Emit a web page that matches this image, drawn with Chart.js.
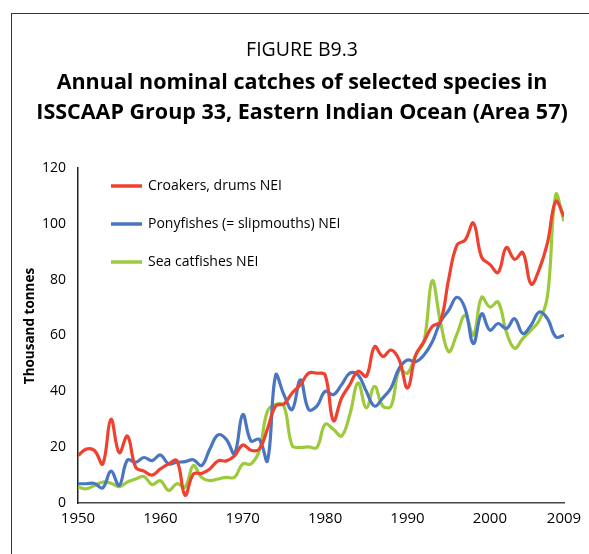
<!DOCTYPE html>
<html>
<head>
  <title>FIGURE B9.3</title>
  <script src="https://cdn.jsdelivr.net/npm/chart.js@4.4.1/dist/chart.umd.min.js"></script>
  <style>
    html, body { margin: 0; padding: 0; background: #fff; }
    #wrap { width: 589px; height: 554px; }
  </style>
</head>
<body>
  <div id="wrap"><canvas id="chart"></canvas></div>

  <script>
    // Años y capturas (miles de toneladas)
    const years = [];
    for (let y = 1950; y <= 2009; y++) years.push(y);

    const croakers = [17, 19.3, 18.8, 14, 30, 18, 24, 12.8, 11.4, 10,
      12.2, 14, 15.2, 2.8, 10.4, 10.6, 12.2, 15.1, 15.1, 16.9,
      20.8, 18.9, 19.3, 26.5, 34.8, 35.5, 39.4, 42.4, 46.5, 46.5,
      45.9, 29.5, 37.6, 42.4, 47.2, 45.4, 56, 52.5, 54.8, 51.2,
      41.2, 53, 57.8, 63.2, 65, 80.2, 92.4, 94.2, 100.3, 88,
      85.5, 82.6, 91.5, 87.3, 89.7, 78.4, 83.8, 93.3, 108, 102.7];

    const ponyfishes = [6.9, 6.9, 7, 5.4, 11.4, 6.3, 15.4, 14.6, 16.3, 15.2,
      17.2, 14, 14.6, 14.8, 15.5, 13.4, 19.3, 24.4, 22.8, 17.7,
      31.7, 22.2, 22.8, 15.1, 45.8, 38.8, 33.5, 44.1, 33.5, 34.7,
      40, 38.8, 42.4, 46.5, 45.9, 40, 34.7, 37.6, 41.2, 48.3,
      51.2, 50.6, 53, 57.7, 64.9, 69, 73.7, 69.6, 57.1, 67.8,
      61.9, 64.3, 62.5, 66, 60.7, 63.7, 68.4, 66, 59.5, 60.1];

    const catfishes = [5.7, 5.1, 6.3, 7.5, 7.1, 5.9, 7.5, 8.6, 9.5, 6.6,
      8, 4.5, 6.9, 5.7, 13.4, 9.2, 8, 8.6, 9.2, 9.2,
      14, 14, 18.7, 32.9, 35.3, 34.7, 20.5, 19.9, 20.1, 19.9,
      28.2, 26.4, 24, 31.7, 43, 34.1, 41.8, 34.7, 34.7, 47.7,
      46.5, 53, 57.8, 79.6, 64.9, 54.2, 60.5, 67.2, 60.1, 73.7,
      70.2, 72, 61.3, 55.4, 58.9, 61.9, 65.4, 74.3, 110.4, 100.9];

    const seriesNames = ['Croakers, drums NEI', 'Ponyfishes (= slipmouths) NEI', 'Sea catfishes NEI'];
    const xTicks = [1950, 1960, 1970, 1980, 1990, 2000, 2009];

    const FONT = "'Open Sans', 'Noto Sans', sans-serif";

    function toPoints(values) {
      return years.map((yr, i) => ({ x: yr, y: values[i] }));
    }

    // Marco, títulos, título del eje y leyenda dibujados a mano
    const figurePlugin = {
      id: 'figure',
      beforeDraw(chart) {
        const ctx = chart.ctx;
        ctx.save();
        ctx.fillStyle = '#fff';
        ctx.fillRect(0, 0, chart.width, chart.height);
        ctx.strokeStyle = '#333';
        ctx.lineWidth = 1;
        ctx.strokeRect(11.5, 13.5, 700, 700);

        ctx.fillStyle = '#000';
        ctx.textAlign = 'center';
        ctx.textBaseline = 'middle';
        ctx.font = '19.5px ' + FONT;
        ctx.fillText('FIGURE B9.3', 302, 50);
        ctx.font = 'bold 21.5px ' + FONT;
        ctx.fillText('Annual nominal catches of selected species in', 302, 83);
        ctx.fillText('ISSCAAP Group 33, Eastern Indian Ocean (Area 57)', 302, 113);

        // título del eje Y
        ctx.save();
        ctx.translate(30, 326);
        ctx.rotate(-Math.PI / 2);
        ctx.font = 'bold 13.5px ' + FONT;
        ctx.fillText('Thousand tonnes', 0, 0);
        ctx.restore();
        ctx.restore();
      },
      afterDraw(chart) {
        const ctx = chart.ctx;
        ctx.save();
        ctx.font = '14px ' + FONT;
        ctx.textAlign = 'left';
        ctx.textBaseline = 'middle';
        chart.data.datasets.forEach((ds, i) => {
          const y = 186 + i * 38;
          ctx.strokeStyle = ds.borderColor;
          ctx.lineWidth = 3.5;
          ctx.beginPath();
          ctx.moveTo(111, y);
          ctx.lineTo(142, y);
          ctx.stroke();
          ctx.fillStyle = '#000';
          ctx.fillText(ds.label, 148, y);
        });
        ctx.restore();
      }
    };

    const ctx = document.getElementById('chart').getContext('2d');
    new Chart(ctx, {
      type: 'line',
      data: {
        datasets: [
          { label: seriesNames[0], data: toPoints(croakers), borderColor: '#ee4130' },
          { label: seriesNames[1], data: toPoints(ponyfishes), borderColor: '#4a75c0' },
          { label: seriesNames[2], data: toPoints(catfishes), borderColor: '#9dca3c' },
        ],
      },
      options: {
        responsive: true,
        maintainAspectRatio: false,
        animation: false,
        layout: { padding: { left: 14, right: 25, top: 168, bottom: 23 } },
        elements: {
          line: { borderWidth: 3.2, tension: 0.4, fill: false },
          point: { radius: 0, hoverRadius: 0 },
        },
        plugins: {
          legend: { display: false },
          tooltip: { enabled: false },
        },
        scales: {
          x: {
            type: 'linear',
            min: 1950,
            max: 2009,
            afterBuildTicks: (scale) => { scale.ticks = xTicks.map(v => ({ value: v })); },
            grid: { display: false, drawTicks: true, tickLength: 4, color: '#444' },
            border: { color: '#444', width: 1.5 },
            ticks: {
              autoSkip: false,
              maxRotation: 0,
              padding: 3,
              color: '#000',
              font: { family: FONT, size: 15 },
              callback: (v) => String(v),
            },
          },
          y: {
            min: 0,
            max: 120,
            afterFit: (scale) => { scale.width = 64; },
            grid: { display: false, drawTicks: true, tickLength: 6, color: '#222' },
            border: { color: '#222', width: 1.5 },
            ticks: {
              stepSize: 20,
              padding: 6,
              color: '#000',
              font: { family: FONT, size: 14 },
            },
          },
        },
      },
      plugins: [figurePlugin],
    });
  </script>
</body>
</html>
